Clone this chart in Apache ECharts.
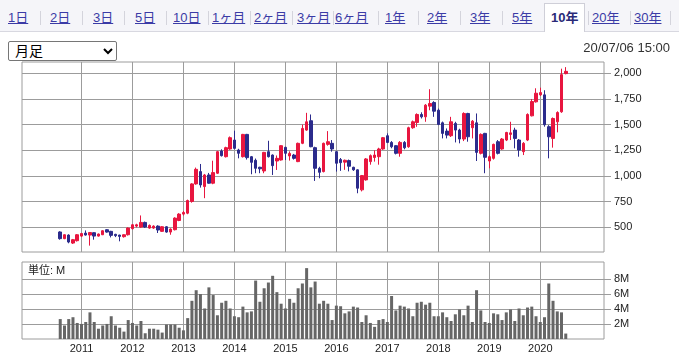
<!DOCTYPE html>
<html>
<head>
<meta charset="utf-8">
<script src="https://cdn.jsdelivr.net/npm/echarts@6/dist/echarts.min.js"></script>
<style>
  html, body { margin: 0; padding: 0; background: #fff; }
  body { width: 679px; height: 354px; position: relative; overflow: hidden;
         font-family: "Liberation Sans", Arial, "Noto Sans CJK JP", sans-serif; }
  #chart { position: absolute; left: 0; top: 0; width: 679px; height: 354px; }
  #bar { position: absolute; left: 0; top: 0; width: 679px; height: 31px; background: #f5f5f9;
         border-bottom: 1px solid #d8d8e0; z-index: 2; }
  .tab { position: absolute; top: 10px; font-size: 13px; line-height: 16px; color: #3b3ba6;
         text-decoration: underline; white-space: nowrap; }
  .sep { position: absolute; top: 11px; width: 1px; height: 14px; background: #d4d4dc; }
  #sel-tab { position: absolute; left: 544px; top: 3px; width: 41px; height: 29px; background: #fff;
             border: 1px solid #cfcfd8; border-bottom: none; box-sizing: border-box; }
  .tab.on { font-weight: bold; text-decoration: none; color: #2a2a78; }
  #period { position: absolute; left: 8px; top: 41px; width: 109px; height: 20px; font-size: 14px;
            font-family: "Liberation Sans", Arial, "Noto Sans CJK JP", sans-serif; z-index: 2;
            padding: 0 0 0 2px; border: 1px solid #767676; border-radius: 2px; background: #fff;
            color: #000; box-sizing: border-box; }
  #stamp { position: absolute; right: 9px; top: 40px; font-size: 13px; color: #333; z-index: 2; }
</style>
</head>
<body>
<div id="chart"></div>
<div id="bar">
  <div id="sel-tab"></div>
</div>
<select id="period"><option>月足</option></select>
<div id="stamp">20/07/06 15:00</div>
<script>
// header tabs
const tabNames = ['1日', '2日', '3日', '5日', '10日', '1ヶ月', '2ヶ月', '3ヶ月', '6ヶ月', '1年', '2年', '3年', '5年', '10年', '20年', '30年'];
const tabLeft = [8, 50, 93, 135, 173, 212, 254, 297, 335, 385, 427, 470, 512, 551, 592, 634];
const sepLeft = [40, 82, 124, 166, 208, 250, 292, 333, 378, 418, 460, 502, 588, 630, 670];
const bar = document.getElementById('bar');
tabNames.forEach((t, i) => {
  const a = document.createElement('span');
  a.className = 'tab' + (t === '10年' ? ' on' : '');
  a.style.left = tabLeft[i] + 'px';
  a.textContent = t;
  bar.appendChild(a);
});
sepLeft.forEach(x => {
  const s = document.createElement('div');
  s.className = 'sep';
  s.style.left = x + 'px';
  bar.appendChild(s);
});

// monthly data, 2010-08 .. 2020-07
const months = [];
for (let y = 2010, m = 8; y * 12 + m <= 2020 * 12 + 7; m++) {
  if (m > 12) { m = 1; y++; }
  months.push(y + '-' + String(m).padStart(2, '0'));
}
// x axis runs a little wider than the data
const axisMonths = [];
for (let y = 2009, m = 11; y * 12 + m <= 2021 * 12 + 4; m++) {
  if (m > 12) { m = 1; y++; }
  axisMonths.push(y + '-' + String(m).padStart(2, '0'));
}
const yearLabels = ['2011', '2012', '2013', '2014', '2015', '2016', '2017', '2018', '2019', '2020'];

const open = [
  455, 390, 425, 347, 370,
  415, 444, 425, 448, 415, 428, 477, 461, 432, 425, 409, 428,
  487, 512, 503, 548, 493, 493, 512, 461, 506, 454, 477, 567,
  629, 638, 752, 923, 1043, 897, 1010, 930, 1027, 1243, 1188, 1263,
  1350, 1253, 1188, 1405, 1188, 1153, 1085, 1049, 1237, 1204, 1146, 1156,
  1279, 1195, 1204, 1140, 1318, 1447, 1538, 1276, 1075, 1043, 1308, 1318,
  1237, 1160, 1135, 1150, 1085, 1060, 865, 962, 1140, 1180, 1188, 1263,
  1392, 1327, 1295, 1221, 1327, 1285, 1470, 1521, 1599, 1576, 1680, 1716,
  1641, 1518, 1437, 1392, 1512, 1447, 1360, 1609, 1470, 1518, 1221, 1415,
  1146, 1172, 1334, 1263, 1350, 1405, 1447, 1350, 1237, 1350, 1586, 1722,
  1790, 1790, 1480, 1366, 1528, 1625, 1997
];
const close = [
  390, 428, 357, 380, 428,
  440, 425, 450, 415, 435, 467, 454, 422, 419, 412, 428, 493,
  525, 525, 548, 503, 519, 512, 474, 506, 454, 483, 590, 629,
  645, 761, 923, 1065, 913, 1010, 930, 1033, 1237, 1198, 1276, 1373,
  1269, 1221, 1405, 1179, 1133, 1075, 1070, 1230, 1188, 1101, 1172, 1295,
  1221, 1220, 1172, 1318, 1463, 1528, 1285, 1075, 1036, 1318, 1334, 1263,
  1124, 1130, 1153, 1095, 1060, 881, 1004, 1166, 1198, 1204, 1263, 1373,
  1327, 1285, 1221, 1327, 1275, 1470, 1528, 1599, 1576, 1690, 1706, 1631,
  1502, 1415, 1398, 1528, 1447, 1360, 1609, 1382, 1534, 1230, 1405, 1182,
  1188, 1308, 1221, 1360, 1424, 1420, 1366, 1253, 1318, 1599, 1725, 1806,
  1812, 1499, 1382, 1560, 1618, 1987, 2019
];
const high = [
  462, 432, 432, 387, 435,
  446, 470, 455, 452, 440, 472, 482, 466, 437, 428, 432, 500,
  532, 535, 616, 556, 528, 520, 520, 512, 512, 490, 598, 638,
  660, 770, 930, 1082, 1117, 1020, 1030, 1149, 1245, 1260, 1285, 1385,
  1441, 1265, 1410, 1410, 1195, 1170, 1090, 1235, 1343, 1210, 1200, 1300,
  1285, 1240, 1215, 1325, 1500, 1615, 1599, 1285, 1090, 1325, 1437, 1350,
  1245, 1175, 1160, 1160, 1090, 1065, 1010, 1175, 1210, 1250, 1275, 1380,
  1415, 1340, 1300, 1340, 1340, 1480, 1540, 1610, 1620, 1700, 1845, 1728,
  1657, 1530, 1463, 1576, 1528, 1460, 1620, 1615, 1545, 1609, 1415, 1420,
  1200, 1315, 1350, 1370, 1430, 1528, 1470, 1360, 1330, 1610, 1750, 1854,
  1860, 1835, 1495, 1570, 1630, 2045, 2060
];
const low = [
  380, 385, 345, 338, 362,
  405, 420, 322, 380, 410, 425, 448, 402, 405, 364, 400, 420,
  480, 500, 495, 495, 487, 485, 445, 455, 448, 428, 470, 560,
  615, 628, 740, 915, 887, 784, 925, 920, 1020, 1190, 1180, 1255,
  1260, 1172, 1180, 1160, 1017, 1027, 1027, 1027, 1180, 1010, 1059, 1150,
  1156, 1150, 1160, 1135, 1310, 1440, 1280, 952, 978, 1035, 1295, 1237,
  1043, 1050, 1060, 1045, 1050, 832, 850, 955, 1110, 1140, 1110, 1255,
  1320, 1270, 1210, 1188, 1260, 1275, 1460, 1479, 1560, 1528, 1640, 1576,
  1495, 1366, 1366, 1380, 1327, 1318, 1340, 1334, 1366, 1146, 1210, 1027,
  1075, 1160, 1210, 1255, 1340, 1350, 1269, 1188, 1204, 1340, 1580, 1715,
  1780, 1480, 1172, 1276, 1425, 1615, 1990
];
// volume, millions of shares
const volume = [
  2.67, 1.81, 2.67, 2.92, 2.15,
  2.02, 2.28, 3.57, 2.28, 1.38, 1.81, 2.02, 3.05, 1.81, 1.51, 0.99, 2.54,
  2.15, 1.81, 2.41, 0.77, 1.38, 1.38, 1.25, 0.86, 1.94, 1.94, 1.94, 1.51,
  1.16, 2.8, 5.12, 6.54, 6.02, 4.09, 6.92, 5.89, 3.18, 4.86, 5.12, 4.09,
  3.05, 2.92, 4.34, 3.57, 3.7, 7.83, 4.99, 6.8, 7.57, 8.47, 6.28, 4.73,
  4.09, 5.38, 4.86, 6.8, 7.44, 9.5, 6.92, 7.7, 4.73, 5.12, 4.73, 2.54,
  4.47, 4.39, 3.44, 3.7, 4.34, 4.22, 2.28, 3.18, 2.15, 1.63, 2.54, 2.67,
  2.28, 5.76, 3.83, 4.47, 4.34, 4.09, 3.05, 4.86, 4.99, 4.6, 4.86, 3.05,
  3.05, 3.57, 2.92, 2.41, 3.31, 3.96, 3.18, 4.47, 2.28, 6.54, 3.83, 2.28,
  2.15, 3.44, 3.31, 2.54, 3.57, 3.96, 2.41, 4.09, 3.18, 4.22, 4.34, 3.05,
  2.28, 2.92, 7.44, 5.12, 3.7, 3.57, 0.73
];
const priceTicks = [500, 750, 1000, 1250, 1500, 1750, 2000];
const volumeTicks = [2e6, 4e6, 6e6, 8e6];

// gridline + label only at January of the labelled years
const isYearStart = (idx, val) => val.slice(5) === '01' && yearLabels.includes(val.slice(0, 4));
const gridColor = '#9c9c9c';
const font = '"Liberation Sans", Arial, "Noto Sans CJK JP", sans-serif';

const chart = echarts.init(document.getElementById('chart'));
chart.setOption({
  animation: false,
  textStyle: { fontFamily: font },
  grid: [
    { left: 22, top: 62, width: 582, height: 190, show: true, borderColor: gridColor, borderWidth: 1 },
    { left: 22, top: 262, width: 582, height: 80, show: true, borderColor: gridColor, borderWidth: 1 }
  ],
  xAxis: [
    {
      type: 'category', gridIndex: 0, data: axisMonths, boundaryGap: false,
      axisLine: { show: false }, axisTick: { show: false }, axisLabel: { show: false },
      splitLine: { show: true, interval: isYearStart, lineStyle: { color: gridColor } }
    },
    {
      type: 'category', gridIndex: 1, data: axisMonths, boundaryGap: false,
      axisLine: { show: false }, axisTick: { show: false },
      axisLabel: { interval: isYearStart, formatter: v => v.slice(0, 4), margin: 4, fontSize: 11, color: '#222' },
      splitLine: { show: true, interval: isYearStart, lineStyle: { color: gridColor } }
    }
  ],
  yAxis: [
    {
      type: 'value', gridIndex: 0, position: 'right', min: 260, max: 2110, scale: true,
      axisLine: { show: false },
      axisTick: { show: true, length: 7, customValues: priceTicks, lineStyle: { color: gridColor } },
      axisLabel: { customValues: priceTicks, margin: 10, fontSize: 11, color: '#222' },
      splitLine: { show: true, lineStyle: { color: gridColor } }
    },
    {
      type: 'value', gridIndex: 1, position: 'right', min: 0, max: 10.32e6,
      axisLine: { show: false },
      axisTick: { show: true, length: 7, customValues: volumeTicks, lineStyle: { color: gridColor } },
      axisLabel: { customValues: volumeTicks, margin: 10, fontSize: 11, color: '#222',
                   formatter: v => (v / 1e6) + 'M' },
      splitLine: { show: true, lineStyle: { color: gridColor } }
    }
  ],
  graphic: [{
    type: 'text', left: 28, top: 265,
    style: { text: '単位: M', fontSize: 11, fill: '#222', fontFamily: font }
  }],
  series: [
    {
      type: 'candlestick', xAxisIndex: 0, yAxisIndex: 0,
      encode: { x: 0, y: [1, 2, 3, 4] },
      barWidth: 3,
      data: months.map((m, i) => [m, open[i], close[i], low[i], high[i]]),
      itemStyle: {
        color: '#e8163f', color0: '#2b2b8c',
        borderColor: '#e8163f', borderColor0: '#2b2b8c', borderWidth: 1
      }
    },
    {
      type: 'bar', xAxisIndex: 1, yAxisIndex: 1, barWidth: 3,
      data: months.map((m, i) => [m, volume[i] * 1e6]),
      itemStyle: { color: '#666' }
    }
  ]
});
</script>
</body>
</html>
